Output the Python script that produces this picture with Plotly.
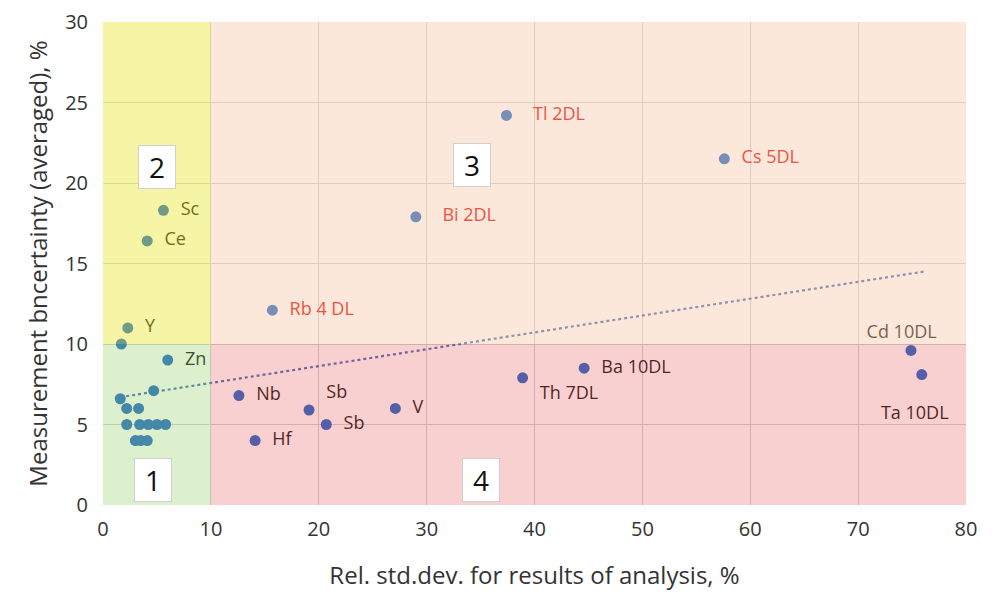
import plotly.graph_objects as go

# Labelled elements (black labels)
lab_names = ["Sc", "Ce", "Y", "Zn", "Nb", "Hf", "Sb", "Sb", "V", "Th 7DL", "Ba 10DL", "Cd 10DL", "Ta 10DL"]
lab_x = [5.6, 4.1, 2.3, 6.0, 12.6, 14.1, 19.1, 20.7, 27.1, 38.9, 44.6, 74.9, 75.9]
lab_y = [18.3, 16.4, 11.0, 9.0, 6.8, 4.0, 5.9, 5.0, 6.0, 7.9, 8.5, 9.6, 8.1]

# Labelled elements with detection-limit notes (red labels)
dl_names = ["Rb 4 DL", "Bi 2DL", "Tl 2DL", "Cs 5DL"]
dl_x = [15.7, 29.0, 37.4, 57.6]
dl_y = [12.1, 17.9, 24.2, 21.5]

# Unlabelled cluster near origin
cl_x = [1.7, 4.7, 1.6, 2.2, 3.3, 2.2, 3.4, 4.2, 5.0, 5.8, 3.0, 3.5, 4.1]
cl_y = [10.0, 7.1, 6.6, 6.0, 6.0, 5.0, 5.0, 5.0, 5.0, 5.0, 4.0, 4.0, 4.0]

# Linear trend (dotted)
trend_x = [1.6, 76.1]
trend_y = [6.7, 14.5]

# Region boxes: x0, x1, y0, y1, number
reg_x0 = [0, 0, 10, 10]
reg_x1 = [10, 10, 80, 80]
reg_y0 = [0, 10, 10, 0]
reg_y1 = [10, 30, 30, 10]
reg_num = ["1", "2", "3", "4"]
reg_lx = [4.6, 5.0, 34.2, 35.0]
reg_ly = [1.55, 21.0, 21.1, 1.55]

dot_color = "#2469C9"
text_black = "#1a1a1a"
text_red = "#E60000"
font = "'Open Sans', sans-serif"

lab_pos = ["middle right", "middle right", "middle right", "middle right", "middle right",
           "middle right", "top right", "middle right", "middle right", "bottom right",
           "middle right", "top center", "bottom center"]
lab_txt = []
for n, p in zip(lab_names, lab_pos):
    if p.endswith("right"):
        lab_txt.append("  " + n)
    elif p == "top center":
        lab_txt.append(n + "    ")
    else:
        lab_txt.append(" <br>" + n + "   ")

dl_txt = ["  " + dl_names[0], "    " + dl_names[1], "    " + dl_names[2], "  " + dl_names[3]]

fig = go.Figure()
fig.add_trace(go.Scatter(x=trend_x, y=trend_y, mode="lines",
                         line=dict(color="#4a70b8", width=2.2, dash="dot"), showlegend=False))
fig.add_trace(go.Scatter(x=cl_x, y=cl_y, mode="markers",
                         marker=dict(color=dot_color, size=11), showlegend=False))
fig.add_trace(go.Scatter(x=lab_x, y=lab_y, mode="markers+text", text=lab_txt,
                         textposition=lab_pos,
                         textfont=dict(family=font, size=18, color=text_black),
                         marker=dict(color=dot_color, size=11), showlegend=False))
fig.add_trace(go.Scatter(x=dl_x, y=dl_y, mode="markers+text",
                         text=dl_txt, textposition="middle right",
                         textfont=dict(family=font, size=18, color=text_red),
                         marker=dict(color=dot_color, size=11), showlegend=False))

overlay = ["rgba(144,205,92,0.30)", "rgba(230,230,30,0.40)",
           "rgba(247,197,162,0.40)", "rgba(232,68,68,0.25)"]
for i in range(4):
    fig.add_shape(type="rect", xref="x", yref="y", x0=reg_x0[i], x1=reg_x1[i],
                  y0=reg_y0[i], y1=reg_y1[i], fillcolor=overlay[i],
                  line=dict(width=0), layer="above")
    fig.add_annotation(x=reg_lx[i], y=reg_ly[i], text=reg_num[i], showarrow=False,
                       font=dict(family=font, size=28, color="#111111"),
                       bgcolor="white", bordercolor="#d0d0d0", borderwidth=1,
                       borderpad=2, width=32, height=38)

fig.update_layout(
    width=984, height=586,
    margin=dict(l=95, r=26, t=14, b=89),
    paper_bgcolor="white", plot_bgcolor="white",
    font=dict(family=font, size=18, color="#333333"),
)
fig.update_xaxes(range=[0, 80], dtick=10, showgrid=True, gridcolor="#d0d0d0", gridwidth=1,
                 zeroline=False, showline=False, ticks="outside", ticklen=6,
                 tickcolor="rgba(0,0,0,0)", automargin=False,
                 tickfont=dict(size=20, color="#333333"),
                 title=dict(text="Rel. std.dev. for results of analysis, %",
                            font=dict(size=24, color="#333333"), standoff=26))
fig.update_yaxes(range=[0, 30], dtick=5, showgrid=True, gridcolor="#d0d0d0", gridwidth=1,
                 zeroline=False, showline=False, ticks="outside", ticklen=10,
                 tickcolor="rgba(0,0,0,0)", automargin=False,
                 tickfont=dict(size=20, color="#333333"),
                 title=dict(text="Measurement bncertainty (averaged), %",
                            font=dict(size=24, color="#333333"), standoff=10))

fig.write_html("out.html")
